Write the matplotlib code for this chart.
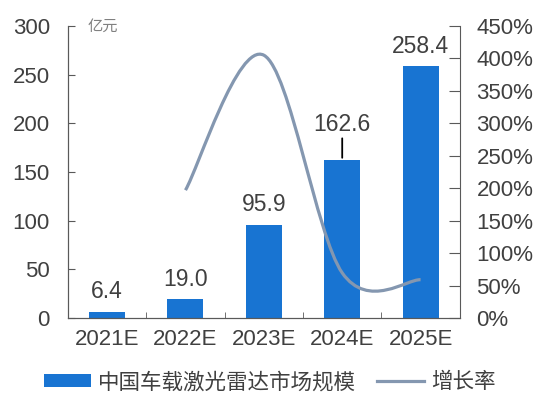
import numpy as np
import matplotlib.pyplot as plt
from matplotlib.path import Path
from matplotlib.patches import PathPatch
from matplotlib.lines import Line2D
from matplotlib.patches import Patch

plt.rcParams['font.family'] = ['Liberation Sans', 'Noto Sans CJK SC', 'DejaVu Sans']

# 数据
years = ['2021E', '2022E', '2023E', '2024E', '2025E']
market = [6.4, 19.0, 95.9, 162.6, 258.4]
growth = [197, 405, 69.5, 58.9]          # 2022E-2025E, %
bar_labels = ['6.4', '19.0', '95.9', '162.6', '258.4']

bar_color = '#1874D2'
line_color = '#8497B0'
axis_color = '#595959'
text_color = '#404040'

fig = plt.figure(figsize=(5.39, 3.94), dpi=100)
ax = fig.add_axes([0.126, 0.193, 0.727, 0.741])
ax2 = ax.twinx()

x = np.arange(len(years))
ax.bar(x, market, width=0.46, color=bar_color, zorder=2)
ax.set_xlim(-0.5, len(years) - 0.5)
ax.set_ylim(0, 300)
ax.set_yticks(np.arange(0, 301, 50))
ax2.set_ylim(0, 450)
ax2.set_yticks(np.arange(0, 451, 50))
ax2.set_yticklabels([f'{v}%' for v in range(0, 451, 50)])

# 数据标签
for i, (v, s) in enumerate(zip(market, bar_labels)):
    if s == '162.6':
        ax.annotate(s, xy=(i, v + 2), xytext=(0, 16), textcoords='offset points',
                    ha='center', va='bottom', fontsize=16.5, color=text_color,
                    arrowprops=dict(arrowstyle='-', color='black', lw=1.3,
                                    shrinkA=0, shrinkB=0))
    else:
        ax.annotate(s, xy=(i, v), xytext=(0, 6), textcoords='offset points',
                    ha='center', va='bottom', fontsize=16.5, color=text_color)

# 平滑曲线 (Catmull-Rom -> Bezier)
gx = x[1:].astype(float)
gy = np.array(growth, dtype=float)
pts = np.column_stack([gx, gy])
ext = np.vstack([pts[0], pts, pts[-1]])
verts = [tuple(pts[0])]
codes = [Path.MOVETO]
for k in range(len(pts) - 1):
    p0, p1, p2, p3 = ext[k], ext[k + 1], ext[k + 2], ext[k + 3]
    c1 = p1 + (p2 - p0) / 6
    c2 = p2 - (p3 - p1) / 6
    verts += [tuple(c1), tuple(c2), tuple(p2)]
    codes += [Path.CURVE4] * 3
ax2.add_patch(PathPatch(Path(verts, codes), facecolor='none',
                        edgecolor=line_color, lw=2.3, zorder=3))

# 坐标轴样式
ax.set_xticks(x)
ax.set_xticklabels(years)
ax.set_xticks(np.arange(-0.5, len(years), 1), minor=True)
ax.tick_params(axis='x', which='major', length=0, pad=8, labelsize=16, labelcolor=text_color)
ax.tick_params(axis='x', which='minor', direction='in', length=4, color=axis_color)
ax.tick_params(axis='y', direction='in', length=5, color=axis_color,
               labelsize=16, labelcolor=text_color, pad=13)
ax2.tick_params(axis='y', direction='in', length=8, color=axis_color,
                labelsize=16, labelcolor=text_color, pad=12)
for a in (ax, ax2):
    a.spines['top'].set_visible(False)
    for s in ('left', 'right', 'bottom'):
        a.spines[s].set_color(axis_color)
ax.spines['right'].set_visible(False)

ax.text(0.05, 1.0, '亿元', transform=ax.transAxes, fontsize=11, color='#808080',
        family=['Noto Sans CJK SC', 'DejaVu Sans'], va='center', ha='left')

handles = [Patch(facecolor=bar_color), Line2D([0], [0], color=line_color, lw=2.3)]
fig.legend(handles, ['中国车载激光雷达市场规模', '增长率'], loc='center',
           bbox_to_anchor=(0.5, 0.03), ncol=2, frameon=False,
           prop={'family': ['Noto Sans CJK SC', 'DejaVu Sans'], 'size': 15.5},
           handlelength=2.2, handleheight=0.6, columnspacing=1.0, handletextpad=0.3)
for t in fig.legends[0].get_texts():
    t.set_color(text_color)

fig.savefig('out.png', dpi=100)
